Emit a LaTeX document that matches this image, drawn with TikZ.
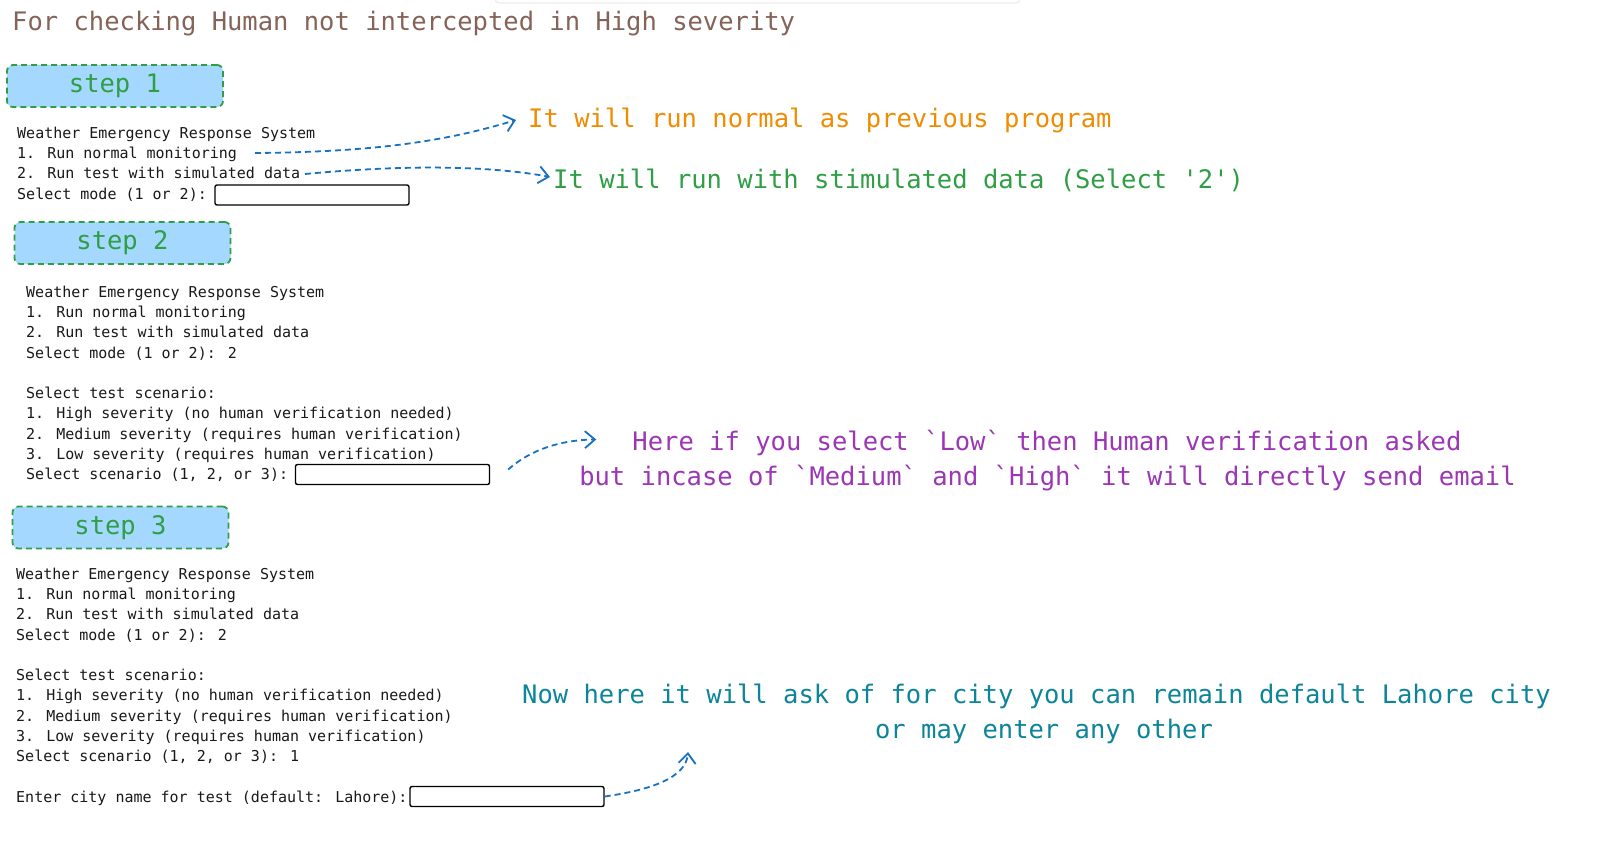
\documentclass[tikz,border=0pt]{standalone}
\usepackage{fontspec}
\usetikzlibrary{arrows.meta}
\newfontfamily\handfont{DejaVu Sans Mono}
\newfontfamily\termfont{DejaVu Sans Mono}
\definecolor{titlebrown}{HTML}{846358}
\definecolor{noteorange}{HTML}{F08C00}
\definecolor{notegreen}{HTML}{2F9E44}
\definecolor{notepurple}{HTML}{9C36B5}
\definecolor{noteteal}{HTML}{0C8599}
\definecolor{arrowblue}{HTML}{1971C2}
\definecolor{stepfill}{HTML}{A5D8FF}
\tikzset{
  hand/.style={inner sep=0pt, font={\handfont\fontsize{25.5}{30}\selectfont}},
  console/.style={inner sep=0pt, align=left, text=black!90, font={\termfont\fontsize{15}{20.3}\selectfont}},
  stepbox/.style={hand, draw=notegreen, text=notegreen, fill=stepfill, line width=1.8pt,
    dash pattern=on 6pt off 4pt, rounded corners=6pt, minimum width=216pt, minimum height=42pt},
  inputbox/.style={draw=black, line width=1.4pt, rounded corners=2pt, minimum width=194pt, minimum height=20pt, inner sep=0pt},
  hint/.style={draw=arrowblue, line width=1.8pt, dash pattern=on 6pt off 4pt,
    -{Straight Barb[length=10pt,width=17pt,line width=1.8pt]}},
}
\begin{document}
\begin{tikzpicture}[x=1pt,y=-1pt]
        \useasboundingbox (0,0) rectangle (1615,841);
        \fill[white] (0,0) rectangle (1615,841);
        \draw[black!7, line width=1.2pt, rounded corners=4pt] (495,-3) -- (495,3) -- (1020,3) -- (1020,-3);
        \node[hand, text=titlebrown, anchor=base west] (title) at (12,30) {For checking Human not intercepted in High severity};

        % step 1
        \node[stepbox] (stepone) at (115,86) {step 1};
        \node[console, anchor=north west] (consoleone) at (17,126.5) {Weather Emergency Response System\\
            1. Run normal monitoring\\
            2. Run test with simulated data\\
            Select mode (1 or 2):};
        \node[inputbox] (inone) at (312,195) {};
        \coordinate (monitorend) at (255,153);
        \coordinate (simend) at (305,174);
        \node[hand, text=noteorange, anchor=base west] (noteone) at (528,127) {It will run normal as previous program};
        \node[hand, text=notegreen, anchor=base west] (notetwo) at (553,188) {It will run with stimulated data (Select '2')};
        \draw[hint] (monitorend) .. controls (380,152) and (450,140) .. ([xshift=-12]noteone.west);
        \draw[hint] (simend) .. controls (390,166) and (480,164) .. ([xshift=-3,yshift=3]notetwo.west);

        % step 2
        \node[stepbox] (steptwo) at (122.5,243) {step 2};
        \node[console, anchor=north west] (consoletwo) at (26,285.5) {Weather Emergency Response System\\
            1. Run normal monitoring\\
            2. Run test with simulated data\\
            Select mode (1 or 2): 2\\[20.3pt]
            Select test scenario:\\
            1. High severity (no human verification needed)\\
            2. Medium severity (requires human verification)\\
            3. Low severity (requires human verification)\\
            Select scenario (1, 2, or 3):};
        \node[inputbox] (intwo) at (392.5,474.5) {};
        \node[hand, text=notepurple, anchor=base] (notethree) at (1047,450) {Here if you select `Low` then Human verification asked};
        \node[hand, text=notepurple, anchor=base] (notefour) at (1047.5,485) {but incase of `Medium` and `High` it will directly send email};
        \draw[hint] ([xshift=18,yshift=5]intwo.east) .. controls (530,450) and (560,440) .. ([xshift=-36,yshift=3]notethree.west);

        % step 3
        \node[stepbox] (stepthree) at (120.5,527.5) {step 3};
        \node[console, anchor=north west] (consolethree) at (16,567.5) {Weather Emergency Response System\\
            1. Run normal monitoring\\
            2. Run test with simulated data\\
            Select mode (1 or 2): 2\\[20.3pt]
            Select test scenario:\\
            1. High severity (no human verification needed)\\
            2. Medium severity (requires human verification)\\
            3. Low severity (requires human verification)\\
            Select scenario (1, 2, or 3): 1\\[20.3pt]
            Enter city name for test (default: Lahore):};
        \node[inputbox] (inthree) at (507,796.5) {};
        \node[hand, text=noteteal, anchor=base] (notefive) at (1036.5,703) {Now here it will ask of for city you can remain default Lahore city};
        \node[hand, text=noteteal, anchor=base] (notesix) at (1044,738) {or may enter any other};
        \coordinate (citytip) at (688,752);
        \draw[hint] (inthree.east) .. controls (650,790) and (686,778) .. (citytip);
\end{tikzpicture}
\end{document}
